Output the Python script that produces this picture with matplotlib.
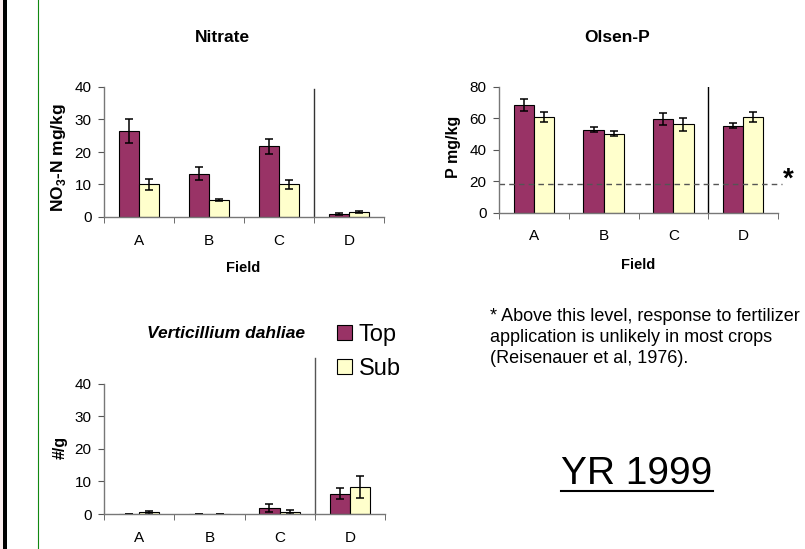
import matplotlib
matplotlib.use("Agg")
import matplotlib.pyplot as plt
from matplotlib.patches import Rectangle
from matplotlib.lines import Line2D
import numpy as np

plt.rcParams['font.family'] = ['Liberation Sans', 'DejaVu Sans']
plt.rcParams['mathtext.fontset'] = 'custom'
plt.rcParams['mathtext.rm'] = 'Liberation Sans'
plt.rcParams['mathtext.bf'] = 'Liberation Sans:bold'

fields = ["A", "B", "C", "D"]

# nitrate, NO3-N mg/kg
nitrate_top = [26.5, 13.3, 21.7, 0.9]
nitrate_top_err = [3.7, 2.0, 2.4, 0.3]
nitrate_sub = [10.0, 5.2, 10.0, 1.4]
nitrate_sub_err = [1.6, 0.4, 1.3, 0.3]

# olsen P, mg/kg
olsen_top = [68.5, 52.8, 59.6, 55.4]
olsen_top_err = [3.7, 1.5, 3.9, 1.7]
olsen_sub = [61.1, 50.3, 56.3, 61.0]
olsen_sub_err = [3.2, 1.5, 4.0, 3.3]
olsen_threshold = 18

# verticillium dahliae, #/g
vert_top = [0.0, 0.0, 1.8, 6.2]
vert_top_err = [0.0, 0.0, 1.3, 1.7]
vert_sub = [0.5, 0.0, 0.5, 8.3]
vert_sub_err = [0.4, 0.0, 0.6, 3.5]

top_color = "#993366"
sub_color = "#FFFFCC"
W, H = 805, 549

fig = plt.figure(figsize=(8.05, 5.49), dpi=100)


def px_axes(left, right, top, bottom):
    return fig.add_axes([left / W, 1 - bottom / H, (right - left) / W, (bottom - top) / H])


def draw_panel(ax, top, top_err, sub, sub_err, ymax, ystep):
    x = np.arange(len(fields))
    bw = 0.29
    ekw = dict(ecolor="black", elinewidth=1.1, capsize=3, capthick=1.1)
    b1 = ax.bar(x - bw / 2, top, bw, yerr=top_err, color=top_color, edgecolor="black",
                linewidth=0.8, error_kw=ekw, label="Top")
    b2 = ax.bar(x + bw / 2, sub, bw, yerr=sub_err, color=sub_color, edgecolor="black",
                linewidth=0.8, error_kw=ekw, label="Sub")
    ax.set_xlim(-0.5, len(fields) - 0.5)
    ax.set_ylim(0, ymax)
    ax.set_yticks(np.arange(0, ymax + 1, ystep))
    ax.set_xticks(x)
    ax.set_xticklabels(fields)
    ax.set_xticks(np.arange(-0.5, len(fields), 1.0), minor=True)
    ax.tick_params(axis="x", which="major", length=0, pad=12, labelsize=11)
    ax.tick_params(axis="x", which="minor", length=4, direction="out", color="#555555")
    ax.tick_params(axis="y", length=4, direction="out", pad=5, labelsize=11, color="#555555")
    for s in ["top", "right"]:
        ax.spines[s].set_visible(False)
    for s in ["left", "bottom"]:
        ax.spines[s].set_color("#777777")
        ax.spines[s].set_linewidth(1.0)
    return b1, b2


# Nitrate
ax1 = px_axes(104, 384, 87, 217)
draw_panel(ax1, nitrate_top, nitrate_top_err, nitrate_sub, nitrate_sub_err, 40, 10)
ax1.axvline(2.5, ymin=0, ymax=0.985, color="#333333", lw=1)
fig.text(222 / W, 1 - 38 / H, "Nitrate", ha="center", va="center", fontsize=12.5, fontweight="bold")
fig.text(243 / W, 1 - 268 / H, "Field", ha="center", va="center", fontsize=10.5, fontweight="bold")
fig.text(58 / W, 1 - 158 / H, r"NO$_\mathbf{3}$-N mg/kg", rotation=90, ha="center", va="center",
         fontsize=12.5, fontweight="bold")

# Olsen-P
ax2 = px_axes(499, 778, 87, 212.7)
draw_panel(ax2, olsen_top, olsen_top_err, olsen_sub, olsen_sub_err, 80, 20)
ax2.axvline(2.5, color="black", lw=1)
ax2.axhline(olsen_threshold, xmin=0, xmax=1.015, color="#555555", lw=1, ls=(0, (4, 3)), clip_on=False)
fig.text(788 / W, 1 - 180 / H, "*", ha="center", va="center", fontsize=20, fontweight="bold")
fig.text(617 / W, 1 - 38 / H, "Olsen-P", ha="center", va="center", fontsize=12.5, fontweight="bold")
fig.text(638 / W, 1 - 265 / H, "Field", ha="center", va="center", fontsize=10.5, fontweight="bold")
fig.text(453 / W, 1 - 147 / H, "P mg/kg", rotation=90, ha="center", va="center",
         fontsize=11.5, fontweight="bold")

# Verticillium
ax3 = px_axes(104, 385, 383.7, 514)
b1, b2 = draw_panel(ax3, vert_top, vert_top_err, vert_sub, vert_sub_err, 40, 10)
ax3.axvline(2.5, ymin=0, ymax=1.2, color="#555555", lw=1, clip_on=False)
fig.text(226 / W, 1 - 334 / H, "Verticillium dahliae", ha="center", va="center", fontsize=12.5,
         fontweight="bold", style="italic")
fig.text(60 / W, 1 - 447 / H, "#/g", rotation=90, ha="center", va="center", fontsize=11.5, fontweight="bold")
fig.legend(handles=[b1, b2], labels=["Top", "Sub"], loc="upper left",
           bbox_to_anchor=(337 / W, 1 - 324 / H), frameon=False, fontsize=17,
           handlelength=0.62, handleheight=0.62, handletextpad=0.3, labelspacing=0.5,
           borderpad=0, borderaxespad=0)

# footnote
fig.text(490 / W, 1 - 308 / H,
         "* Above this level, response to fertilizer\n"
         "application is unlikely in most crops\n"
         "(Reisenauer et al, 1976).",
         ha="left", va="top", fontsize=13, linespacing=1.32)

yr = fig.text(637 / W, 1 - 474 / H, "YR 1999", ha="center", va="center", fontsize=28)
fig.canvas.draw()
bb = yr.get_window_extent()
fig.add_artist(Line2D([bb.x0 / W, bb.x1 / W], [1 - 491 / H, 1 - 491 / H],
                      transform=fig.transFigure, color="black", lw=1.5))

# left edge decoration
fig.add_artist(Rectangle((0, 0), 3 / W, 1, transform=fig.transFigure, color="#fbeeee", lw=0))
fig.add_artist(Rectangle((3 / W, 0), 4 / W, 1, transform=fig.transFigure, color="black", lw=0))
fig.add_artist(Line2D([37.5 / W, 37.5 / W], [0, 1], transform=fig.transFigure, color="#118811", lw=0.8))

fig.savefig("out.png", dpi=100)
